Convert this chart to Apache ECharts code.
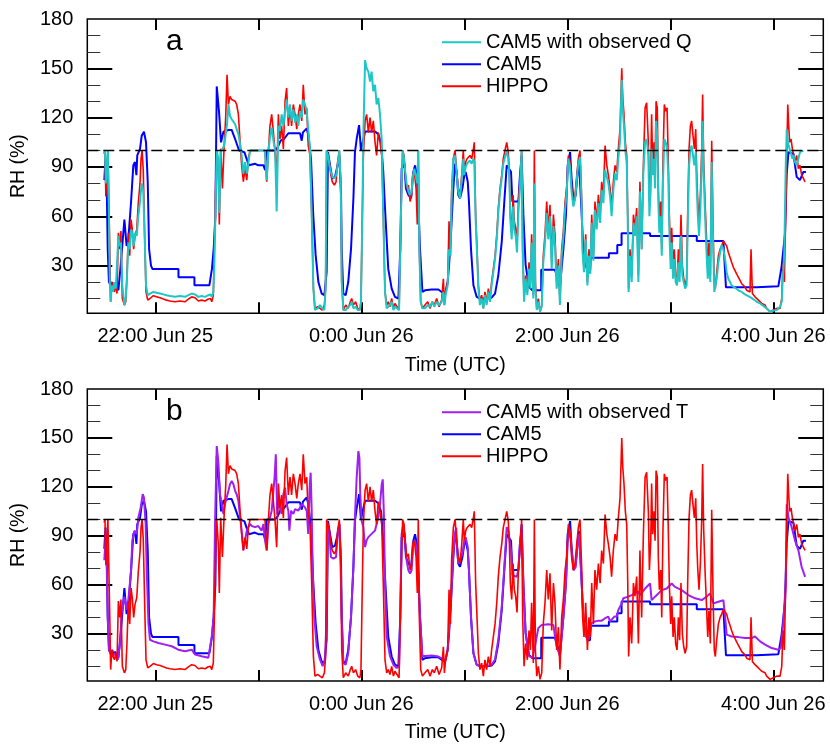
<!DOCTYPE html>
<html><head><meta charset="utf-8">
<script src="https://cdn.jsdelivr.net/npm/echarts@6/dist/echarts.min.js"></script>
<style>html,body{margin:0;padding:0;background:#fff}#c{width:830px;height:744px}</style>
</head><body><div id="c"></div>
<script>
// time in minutes relative to 22:00 UTC Jun 25
const X_MIN = -39.6, X_MAX = 389.1;
const Y_MIN = 1, Y_MAX = 180;
const xTickMinutes = [0, 60, 120, 180, 240, 300, 360];
const xLabelMinutes = [0, 120, 240, 360];
const xLabelText = ['22:00 Jun 25', '0:00 Jun 26', '2:00 Jun 26', '4:00 Jun 26'];
const yMajorTicks = [30, 60, 90, 120, 150];
const yLabelValues = [30, 60, 90, 120, 150, 180];
const yMinorTicks = [10, 20, 40, 50, 70, 80, 100, 110, 130, 140, 160, 170];
const saturation = 100;

const hippo = [[-29.8,98],[-29.3,100],[-28.8,72],[-28.2,88],[-27.6,100],[-27.0,100],[-26.5,40],[-26.0,8],[-25.3,20],[-24.6,16],[-23.8,14],[-23.0,18],[-22.3,13],[-21.5,50],[-20.7,40],[-20.0,51],[-19.2,10],[-18.0,6],[-17.2,8],[-16.5,24],[-15.7,50],[-14.9,36],[-14.1,58],[-13.4,52],[-12.6,40],[-11.8,48],[-10.8,52],[-9.9,68],[-8.9,80],[-8.3,95],[-7.7,100],[-7.0,88],[-6.0,40],[-5.4,14],[-4.4,9],[-3.1,10],[-1.1,11.7],[0.8,11],[2.8,10.5],[4.7,9.7],[6.6,9],[8.6,8.5],[11.5,8],[14.4,8.5],[17.3,8],[19.3,9.7],[21.2,11],[23.1,10.5],[25.1,8.5],[27,9],[29,8.5],[30.9,9.7],[32.1,10],[32.9,8],[33.8,12],[34.4,40],[35.2,81],[35.8,100],[36.7,85],[37.3,55],[38.1,101],[39.1,77],[40.2,105],[41,120],[41.8,146],[42.6,128],[43.5,133],[44.5,131],[46.5,130],[47.4,128],[48.4,122],[49.4,105],[50.3,91],[51.3,81],[52.3,89],[53.3,82],[54.2,95],[55.2,100],[63.9,100],[64.9,81],[65.9,100],[66.8,115],[67.8,122],[68.8,111],[69.8,99],[70.7,83],[71.7,122],[72.6,107],[73.6,115],[74.6,101],[75.6,130],[76.5,138],[77.5,115],[78.5,126],[79.4,115],[80.4,128],[81.4,122],[82.4,113],[83.3,122],[84.3,128],[85.3,118],[86.2,140],[87.2,122],[88.2,126],[89.1,103],[90.1,97],[91.1,61],[92.1,16],[93,4],[94.6,5],[95.9,4],[97.3,3],[98.5,6],[99.2,16],[99.8,100],[100.8,99],[101.4,93],[102.3,85],[103.1,81],[104.3,79],[105.3,81],[106.2,93],[107.2,100],[108,81],[108.6,20],[109.5,3],[110.9,6],[112.4,4],[113.6,8],[114.4,10],[115.4,6],[116.7,8],[117.9,4],[119.2,3],[119.8,8],[120.6,61],[121.2,97],[122.2,118],[123.1,122],[124.1,111],[125.1,120],[126,111],[127,118],[128,105],[128.9,97],[129.9,111],[130.9,105],[131.9,97],[132.8,61],[133.8,14],[134.8,6],[135.7,8],[136.7,5],[137.7,10],[138.7,4],[139.6,7],[140.6,6],[142,3],[142.7,4],[143.5,81],[144.1,100],[144.9,97],[145.5,87],[146.4,77],[147.4,79],[148.4,69],[149.3,73],[149.9,85],[150.9,87],[151.9,77],[152.6,55],[153.2,100],[153.8,40],[154.6,8],[155.6,4],[157.1,6],[158.7,8],[160,4],[161.4,8],[162.5,6],[163.9,10],[165.3,5],[166.8,9],[167.8,22],[168.4,6],[169.1,14],[170.3,20],[171.1,57],[171.9,36],[172.6,75],[173.6,95],[174.6,100],[175.6,87],[176.5,77],[177.5,73],[178.5,85],[179.4,100],[180,87],[180.8,93],[181.6,95],[182.3,95],[183.3,97],[184.3,95],[185.3,101],[185.8,105],[186.6,61],[187.4,40],[188.2,18],[189.1,8],[190.1,12],[191.1,4],[192,14],[193,8],[194,16],[195,10],[195.9,20],[196.9,28],[197.9,36],[198.9,49],[199.8,65],[200.8,77],[201.8,85],[202.7,95],[203.7,100],[204.7,105],[205.6,99],[206.2,87],[206.8,61],[207.6,51],[208.4,73],[209.1,57],[209.9,53],[210.7,43],[211.5,69],[212.4,81],[213.4,100],[214,40],[214.8,10],[215.7,24],[216.7,14],[217.7,32],[218.5,20],[219.2,49],[220.2,12],[220.8,100],[221.4,20],[222.2,4],[223.1,10],[224.1,2],[225.1,6],[226,36],[227,49],[228,69],[228.9,51],[229.9,67],[230.9,32],[231.9,61],[232.8,49],[233.8,20],[234.8,34],[235.7,8],[236.7,40],[237.7,51],[238.7,69],[239.6,77],[240.6,97],[241.6,93],[242.5,77],[243.5,69],[244.5,73],[245.5,85],[246.4,95],[247.4,100],[248.4,69],[248.9,40],[249.7,28],[250.7,49],[251.7,20],[252.6,40],[253.4,28],[254.2,61],[255.2,36],[256.1,69],[257.1,57],[258.1,73],[259.1,61],[260,81],[261,73],[262,103],[263,91],[263.9,85],[264.9,77],[265.8,65],[266.8,81],[267.8,91],[268.8,87],[269.7,101],[270.7,113],[271.7,150],[272.3,132],[273,122],[273.8,105],[274.6,97],[275.2,61],[275.7,16],[276.5,40],[277.5,24],[278.5,61],[279.4,53],[280.4,65],[281.4,24],[282.3,81],[283.3,40],[284.3,91],[285.3,126],[286.2,129],[287.2,105],[287.8,69],[288.6,87],[289.1,122],[289.7,91],[290.5,105],[291.1,87],[291.7,130],[292.4,126],[293,77],[293.6,57],[294.4,69],[295,40],[295.7,93],[296.5,128],[297.3,124],[298.1,126],[298.8,95],[299.4,61],[300.2,36],[300.8,53],[301.6,28],[302.3,40],[303.1,24],[303.9,20],[304.7,40],[305.4,26],[306.2,61],[307,30],[307.8,22],[308.6,18],[309.5,22],[310.1,61],[310.9,101],[311.7,115],[312.4,118],[313.2,109],[314,101],[314.8,113],[315.4,85],[316,69],[316.7,57],[317.5,73],[318.3,101],[318.8,134],[319.4,95],[320.2,69],[321,49],[321.8,28],[322.5,44],[323.3,24],[324.1,106],[324.9,53],[325.6,20],[326.2,16],[327,26],[328,36],[329,40],[329.9,42],[330.9,45],[331.9,46],[332.8,42],[333.8,38],[334.8,35],[335.7,32],[336.7,29],[337.7,27],[338.6,25],[339.6,23],[340.6,21],[341.6,19],[342.5,18],[343.5,17],[344.5,15],[345.4,16],[346.4,14],[347,40],[347.8,13],[348.4,12],[349.3,11],[350.3,10],[351.3,9],[352.3,8],[353.2,7],[354.2,7],[355.2,6],[356.1,4],[357.1,3],[358.1,2],[359,2],[360,3],[361,2],[362,4],[362.9,3],[363.9,4],[364.9,10],[365.4,26],[366,32],[366.4,20],[367.2,61],[367.8,97],[368.4,128],[368.9,116],[369.5,105],[370.3,107],[371.1,101],[371.9,97],[372.6,93],[373.6,97],[374.6,89],[375.5,91],[376.5,85],[377.5,83],[378.5,81]];

const cam5Q = [[-29.8,98],[-29.3,100],[-28.8,80],[-28.2,92],[-27.6,100],[-27.0,60],[-26.5,20],[-26.0,8],[-25.3,18],[-24.6,14],[-23.8,20],[-23.0,16],[-22.3,16],[-21.5,48],[-20.7,42],[-20.0,44],[-19.2,18],[-18.0,6],[-17.2,10],[-16.5,22],[-15.7,44],[-14.9,40],[-14.1,52],[-13.4,50],[-12.6,42],[-11.8,50],[-10.8,48],[-9.9,60],[-8.9,69],[-8.3,76],[-7.7,80],[-7.0,75],[-6.0,40],[-5.4,18],[-4.4,12],[-3.1,13],[-1.1,14],[0.8,13.5],[2.8,13],[4.7,12.5],[6.6,12],[8.6,11.5],[11.5,11],[14.4,11.5],[17.3,11],[19.3,12],[21.2,13],[23.1,12.5],[25.1,11],[27,11.5],[29,11],[30.9,12],[32.1,12.5],[32.9,11],[33.8,14],[34.4,30],[35.2,70],[35.8,100],[36.7,95],[37.3,62],[38.1,99],[39.1,100],[40.2,103],[41,110],[41.8,116],[42.6,128],[43.5,121],[44.5,119],[46.5,116],[47.4,113],[48.4,110],[49.4,104],[50.3,97],[51.3,86],[52.3,93],[53.3,86],[54.2,92],[55.2,100],[63.9,100],[64.9,82],[65.9,100],[66.8,108],[67.8,114],[68.8,106],[69.8,100],[70.7,63],[71.7,115],[72.6,112],[73.6,122],[74.6,115],[75.6,124],[76.5,131],[77.5,120],[78.5,128],[79.4,118],[80.4,125],[81.4,117],[82.4,122],[83.3,115],[84.3,124],[85.3,120],[86.2,131],[87.2,128],[88.2,124],[89.1,113],[90.1,101],[91.1,61],[92.1,16],[93,3],[94.6,4],[95.9,6],[97.3,4],[98.5,3],[99.2,16],[99.8,100],[100.8,96],[101.4,91],[102.3,87],[103.1,84],[104.3,83],[105.3,85],[106.2,91],[107.2,100],[108,81],[108.6,20],[109.5,3],[110.9,3],[112.4,5],[113.6,6],[114.4,8],[115.4,4],[116.7,5],[117.9,3],[119.2,3],[119.8,8],[120.6,61],[121.2,110],[122.2,155],[123.1,150],[124.1,148],[125.1,142],[126,148],[127,136],[128,140],[128.9,128],[129.9,132],[130.9,122],[131.9,106],[132.8,61],[133.8,14],[134.8,4],[135.7,3],[136.7,6],[137.7,8],[138.7,3],[139.6,5],[140.6,4],[142,3],[142.7,4],[143.5,81],[144.1,100],[144.9,95],[145.5,88],[146.4,80],[147.4,75],[148.4,73],[149.3,75],[149.9,83],[150.9,89],[151.9,88],[152.6,80],[153.2,100],[153.8,40],[154.6,8],[155.6,4],[157.1,4],[158.7,6],[160,5],[161.4,8],[162.5,5],[163.9,8],[165.3,6],[166.8,8],[167.8,14],[168.4,6],[169.1,12],[170.3,18],[171.1,40],[171.9,36],[172.6,70],[173.6,95],[174.6,97],[175.6,85],[176.5,75],[177.5,71],[178.5,83],[179.4,95],[180,85],[180.8,90],[181.6,92],[182.3,93],[183.3,94],[184.3,92],[185.3,95],[185.8,93],[186.6,58],[187.4,38],[188.2,16],[189.1,6],[190.1,10],[191.1,4],[192,12],[193,6],[194,14],[195,8],[195.9,18],[196.9,26],[197.9,34],[198.9,46],[199.8,62],[200.8,75],[201.8,83],[202.7,92],[203.7,96],[204.7,100],[205.6,95],[206.2,84],[206.8,58],[207.6,46],[208.4,66],[209.1,52],[209.9,48],[210.7,38],[211.5,62],[212.4,77],[213.4,100],[214,38],[214.8,8],[215.7,22],[216.7,12],[217.7,28],[218.5,16],[219.2,44],[220.2,10],[220.8,80],[221.4,16],[222.2,3],[223.1,8],[224.1,2],[225.1,5],[226,32],[227,44],[228,62],[228.9,46],[229.9,60],[230.9,28],[231.9,54],[232.8,42],[233.8,16],[234.8,30],[235.7,6],[236.7,36],[237.7,47],[238.7,64],[239.6,74],[240.6,95],[241.6,90],[242.5,75],[243.5,66],[244.5,70],[245.5,82],[246.4,92],[247.4,96],[248.4,66],[248.9,38],[249.7,26],[250.7,46],[251.7,18],[252.6,36],[253.4,25],[254.2,56],[255.2,33],[256.1,64],[257.1,52],[258.1,68],[259.1,56],[260,76],[261,68],[262,88],[263,84],[263.9,80],[264.9,72],[265.8,60],[266.8,76],[267.8,86],[268.8,82],[269.7,95],[270.7,106],[271.7,143],[272.3,125],[273,115],[273.8,100],[274.6,92],[275.2,56],[275.7,14],[276.5,36],[277.5,20],[278.5,56],[279.4,48],[280.4,60],[281.4,20],[282.3,75],[283.3,40],[284.3,87],[285.3,105],[286.2,107],[287.2,97],[287.8,60],[288.6,77],[289.1,101],[289.7,85],[290.5,95],[291.1,77],[291.7,118],[292.4,109],[293,69],[293.6,50],[294.4,60],[295,36],[295.7,81],[296.5,107],[297.3,105],[298.1,101],[298.8,85],[299.4,52],[300.2,28],[300.8,44],[301.6,22],[302.3,34],[303.1,20],[303.9,18],[304.7,32],[305.4,20],[306.2,48],[307,24],[307.8,20],[308.6,16],[309.5,18],[310.1,52],[310.9,91],[311.7,101],[312.4,103],[313.2,97],[314,91],[314.8,99],[315.4,77],[316,61],[316.7,48],[317.5,64],[318.3,91],[318.8,118],[319.4,87],[320.2,61],[321,40],[321.8,22],[322.5,36],[323.3,20],[324.1,93],[324.9,44],[325.6,14],[326.2,14],[327,22],[328,32],[329,38],[329.9,42.5],[330.9,40],[331.9,34],[332.8,26],[333.8,22],[334.8,20],[335.7,18],[336.7,17],[337.7,16.5],[338.6,16],[339.6,15],[340.6,14.5],[341.6,14],[342.5,13],[343.5,12.5],[344.5,12],[345.4,11.5],[346.4,11],[347,10.5],[347.8,10],[348.4,9.5],[349.3,9],[350.3,8],[351.3,7.5],[352.3,7],[353.2,6],[354.2,5.5],[355.2,5],[356.1,4],[357.1,3],[358.1,2],[359,2],[360,2.5],[361,2],[362,3],[362.9,3],[363.9,5],[364.9,8],[365.4,20],[366,30],[366.4,40],[367.2,90],[367.8,113],[368.4,106],[368.9,103],[369.5,101],[370.3,98],[371.1,95],[371.9,97],[372.6,93],[373.6,91],[374.6,95],[375.5,99],[376.5,100],[377.5,100]];

const cam5 = [[-29.7,82],[-29.0,95],[-28.3,80],[-27.7,40],[-27.0,20],[-26,18],[-25,20],[-24.5,17],[-23.4,19],[-22.5,17],[-21.5,15],[-20.0,32],[-18.0,58],[-16.7,42],[-15.7,46],[-14.1,69],[-12.8,91],[-11.8,93],[-11.0,85],[-10.5,97],[-8.9,101],[-7.9,109],[-6.6,111.5],[-5.4,105],[-4.4,81],[-3.6,40],[-2.5,30],[-1.7,28],[13.5,28],[13.5,23],[22.8,23],[22.8,18],[31.5,18],[33.0,28],[34.0,40],[35.0,60],[35.8,139],[37.1,124],[38.3,105],[39.7,111.5],[42.6,112.5],[44.5,112.5],[46.5,107],[48.8,100],[51.9,99],[53.8,93],[54.6,91],[58,92],[60,91],[63,91],[64,88],[64.9,100],[69.8,100],[71.3,102],[73,106],[75,107],[77.5,110.5],[84.3,110.5],[85.3,106],[86,111],[88.2,113.5],[89.1,109.5],[90.7,95],[92,61],[93.4,36.5],[95,20],[96.9,13],[98.5,12],[99.8,26],[100.6,99],[101.8,91],[103.1,83],[104.7,84],[106.2,91],[107.2,97],[108.2,73],[108.6,40],[109.5,13],[110.9,12],[112.4,20],[114,40],[115.4,71],[116.3,99],[117.3,107],[118.7,115.5],[119.8,100],[121.2,107],[122.2,111.5],[128,111.5],[129.9,110],[131.5,105],[132.8,87],[133.8,65],[135.7,28],[137.7,16],[139.6,11],[141.6,10],[142.7,40],[143.5,89],[145.1,92],[146,77],[147.4,73],[149,71],[150.3,87],[151.3,91],[152.3,85],[153.2,69],[154.2,40],[155.6,14],[157.1,15],[161,15.5],[164.9,15.5],[166.8,14],[168.8,13],[170.3,20],[171.1,30],[172.3,50.5],[173.6,77],[174.6,92],[175.5,87],[176.5,73],[177.5,71],[178.9,77],[180,85],[180.8,87],[182,81],[182.7,69],[183.9,40],[185.3,18],[187.2,11],[189.1,10],[193,10],[195.9,10.5],[197.9,13],[199.8,24],[201.8,44.5],[203.3,69],[204.7,91],[205.6,92],[207.2,87],[208,69],[211.5,69],[212.4,85],[213.4,97],[214.4,61],[215.7,30.5],[217.7,17],[219.6,15],[224.8,15],[224.8,27.5],[232.8,27.5],[233.8,24],[235.7,17],[236.7,16],[237.7,40],[239.2,61],[240.2,91],[241.6,99],[242.5,83],[243.7,69],[244.9,73],[246,87],[246.8,93],[248,69],[249.3,40],[250.3,32],[251.9,26],[253.2,26],[253.6,34.8],[264.2,34.8],[264.2,37.5],[269.1,37.5],[269.1,42.5],[271.6,42.5],[271.6,49.7],[288.2,49.7],[288.2,48],[315.4,48],[315.4,45],[330.9,45],[332.4,16.8],[350.3,16.8],[350.3,17.4],[362.9,17.4],[364.8,29.3],[366.8,49.7],[367.8,86],[368.8,99],[371.7,98],[373.6,84],[375.5,82],[377.5,87],[379,87]];

const cam5T = [[-29.7,75],[-28.7,93],[-27.7,40.5],[-26.9,20],[-25.4,16],[-23.4,18],[-21.9,14],[-20.5,24],[-19.6,42.5],[-18.0,52.7],[-16.7,44.6],[-15.7,50.6],[-14.1,69],[-13.4,87],[-12.2,93],[-10.8,91],[-9.9,101],[-8.5,107.4],[-7.3,115.5],[-6.6,113.5],[-5.6,97],[-5.0,69],[-4.0,36.5],[-3.1,26.3],[-1.1,25.3],[1.8,24.3],[5.7,23.3],[9.6,22.3],[13.4,20.2],[17.3,19.2],[21.2,20.2],[23.2,17.2],[27.0,16.2],[30.9,15.2],[31.9,16.2],[32.9,28.3],[34.0,40.5],[34.8,97],[35.8,145],[36.7,135.8],[37.7,115.5],[38.7,109.5],[39.7,103.4],[40.6,109.5],[41.6,113.5],[42.6,117.6],[43.5,121.6],[44.5,123.6],[45.5,121.6],[46.5,117.6],[47.4,115.5],[48.4,111.5],[49.4,101.4],[50.3,93.2],[51.3,81.1],[52.3,87.2],[53.3,93.2],[54.2,95.3],[55.2,97.3],[56.2,96],[58.1,95.3],[60.0,96],[62.0,93.2],[63.0,97.3],[63.9,87.2],[64.9,81.1],[65.9,97.3],[67.8,105.4],[69.5,126],[70.2,140],[71.0,103],[71.7,111.5],[72.6,107.4],[73.6,103.4],[74.6,115.5],[75.6,119.6],[76.5,109.5],[77.5,105.4],[78.1,93.2],[79.1,105.4],[80.4,103.4],[81.4,106.4],[82.4,107.4],[83.3,105.4],[84.3,107.4],[85.3,109.5],[86.2,109.5],[87.2,107.4],[88.2,105.4],[89.1,91.2],[89.9,119.6],[90.5,128.7],[91.1,105.4],[91.7,68.9],[92.6,40.5],[94.0,22.3],[95.9,14.2],[97.5,10.1],[98.9,14.2],[99.8,40.5],[100.4,97.3],[101.4,91.2],[102.3,77],[103.7,76],[105.3,77],[106.2,91.2],[107.2,97.3],[108.0,68.9],[108.6,40.5],[109.5,12.1],[110.9,11],[112.4,18.2],[114.0,40.5],[115.4,71],[116.3,101.4],[117.3,125.7],[118.3,141.9],[118.9,137.8],[119.4,115.5],[120.2,99.3],[121.2,95.3],[122.2,83.1],[123.1,87.2],[124.1,89.2],[126.0,91.2],[128.0,93.2],[129.9,101.4],[130.9,109.5],[131.9,121.6],[132.5,124.6],[133.2,101.4],[133.8,60.8],[134.8,28.3],[136.7,16.2],[138.7,11],[140.6,9],[142.0,10],[142.7,40.5],[143.5,91.2],[144.5,97.3],[145.5,87.2],[146.4,75],[147.4,68.9],[148.4,66.9],[149.3,68.9],[150.3,85.1],[151.3,87.2],[152.3,81.1],[153.2,64.8],[154.2,40.5],[155.6,16.2],[161.0,16.7],[164.9,16],[167.8,14.2],[169.1,13.8],[170.3,20.2],[171.1,32.4],[172.3,52.7],[173.6,79],[174.6,92],[175.3,95],[175.6,85],[176.5,73],[177.5,72],[178.9,79],[180.0,87.2],[180.8,89.2],[182.0,83.1],[182.7,68.9],[183.9,40.5],[185.3,18.2],[187.2,11],[189.1,10.1],[193.0,10.1],[195.9,11],[197.9,14.2],[199.8,26.3],[201.8,46.6],[203.3,70.9],[204.7,95.3],[205.6,93.2],[207.2,81.1],[208.0,66],[210.5,64.8],[211.5,68.9],[212.4,85.1],[213.4,93.2],[214.4,60.8],[215.7,30.4],[217.7,16.2],[219.6,15.2],[221.2,22.3],[222.2,28.3],[223.1,33.4],[225.1,35.4],[228.9,35.8],[231.9,35.4],[232.8,28.3],[233.8,22.3],[235.7,16.2],[236.7,17.2],[237.7,40.5],[239.2,60.8],[240.2,87.2],[241.6,93.2],[242.5,81.1],[243.7,68.9],[244.9,70.9],[246.0,85.1],[246.8,91.2],[248.0,68.9],[249.3,40.5],[250.7,28.3],[252.3,26.3],[253.2,30.4],[254.2,36.5],[256.1,37.5],[258.1,38],[260.0,38],[262.0,39.5],[263.9,40.5],[264.9,37.5],[265.8,38],[267.4,40.5],[268.8,40.5],[269.7,44.6],[270.7,46.6],[271.7,48.6],[272.6,51.7],[273.6,52.7],[275.5,52.7],[277.5,53.7],[279.4,54.7],[281.4,55.7],[282.3,53.7],[285.3,57.7],[288.2,60.8],[289.1,50.6],[291.1,52.7],[295.0,56.7],[297.9,57.7],[300.8,60.8],[302.7,58.7],[306.6,56.7],[310.5,53.7],[314.4,51.7],[318.3,50.6],[321.2,52.7],[323.1,54.7],[325.1,48.6],[328.0,49.6],[330.9,50.6],[331.9,40.5],[332.8,29.4],[335.7,28.3],[339.6,27.9],[343.5,27.3],[347.4,27.3],[349.3,28.3],[352.3,25.3],[355.2,23.3],[359.0,21.2],[362.9,20.2],[364.3,21.2],[365.8,36.5],[367.2,60.8],[367.8,109.4],[368.8,101.4],[370.7,95.3],[372.6,87.2],[374.6,81.1],[376.5,70.9],[378.5,64.8]];

const FONT = '"Liberation Sans", Arial, Helvetica, sans-serif';
const C_RED = '#FF0000', C_BLUE = '#0000FF', C_CYAN = '#1FC6C6', C_PURPLE = '#A020F0';

const gridBoxes = [{top: 19}, {top: 389}];

function xAxes(g) {
  const base = {gridIndex: g, type: 'value', min: X_MIN, max: X_MAX,
    axisLine: {show: false, onZero: false}, splitLine: {show: false}};
  return [
    Object.assign({}, base, {position: 'bottom',
      axisTick: {show: true, inside: true, length: 11, customValues: xTickMinutes, lineStyle: {color: '#000', width: 2}},
      axisLabel: {show: true, customValues: xLabelMinutes, color: '#000', fontSize: 20, fontFamily: FONT, margin: 13,
        formatter: v => { const i = xLabelMinutes.indexOf(Math.round(v)); return i >= 0 ? xLabelText[i] : ''; }},
      name: 'Time (UTC)', nameLocation: 'middle', nameGap: 42,
      nameTextStyle: {color: '#000', fontSize: 19.5, fontFamily: FONT}}),
    Object.assign({}, base, {position: 'top',
      axisTick: {show: true, inside: true, length: 11, customValues: xTickMinutes, lineStyle: {color: '#000', width: 2}},
      axisLabel: {show: false}})
  ];
}
function yAxes(g) {
  const base = {gridIndex: g, type: 'value', min: Y_MIN, max: Y_MAX,
    axisLine: {show: false, onZero: false}, splitLine: {show: false}};
  const major = {show: true, inside: true, length: 25, customValues: yMajorTicks, lineStyle: {color: '#000', width: 2}};
  const minor = {show: true, inside: true, length: 13, customValues: yMinorTicks, lineStyle: {color: '#333', width: 1}};
  return [
    Object.assign({}, base, {position: 'left', axisTick: major,
      axisLabel: {show: true, customValues: yLabelValues, color: '#000', fontSize: 20, fontFamily: FONT, margin: 14},
      name: 'RH (%)', nameLocation: 'middle', nameGap: 56,
      nameTextStyle: {color: '#000', fontSize: 19.5, fontFamily: FONT}}),
    Object.assign({}, base, {position: 'left', axisTick: minor, axisLabel: {show: false}}),
    Object.assign({}, base, {position: 'right', axisTick: major, axisLabel: {show: false}}),
    Object.assign({}, base, {position: 'right', axisTick: minor, axisLabel: {show: false}})
  ];
}
const satLine = {silent: true, symbol: ['none', 'none'], label: {show: false},
  lineStyle: {color: '#000', type: [11, 5], width: 1.3}, data: [{yAxis: saturation}]};
function line(name, data, color, width, xi, yi, mark) {
  const s = {type: 'line', name, data, xAxisIndex: xi, yAxisIndex: yi,
    showSymbol: false, symbol: 'none', connectNulls: false,
    lineStyle: {color, width}, itemStyle: {color}, emphasis: {disabled: true}};
  if (mark) s.markLine = satLine;
  return s;
}
function legend(names, top) {
  return {data: names, orient: 'vertical', left: 442, top, padding: 0, itemGap: 0,
    itemWidth: 39, itemHeight: 2, icon: 'rect', selectedMode: false,
    textStyle: {color: '#000', fontSize: 20, lineHeight: 22, fontFamily: FONT}};
}

const chart = echarts.init(document.getElementById('c'), null, {width: 830, height: 744});
chart.setOption({
  animation: false,
  backgroundColor: '#fff',
  grid: gridBoxes.map(b => ({left: 87.3, top: b.top, width: 736, height: 294.3, show: true,
    borderColor: '#000', borderWidth: 1.5, backgroundColor: 'transparent'})),
  xAxis: [...xAxes(0), ...xAxes(1)],
  yAxis: [...yAxes(0), ...yAxes(1)],
  legend: [legend(['CAM5 with observed Q', 'CAM5', 'HIPPO'], 31.3),
           legend(['CAM5 with observed T', 'CAM5', 'HIPPO'], 401.3)],
  graphic: [
    {type: 'text', left: 166, top: 27, style: {text: 'a', font: '30px ' + FONT, fill: '#000'}},
    {type: 'text', left: 166, top: 397, style: {text: 'b', font: '30px ' + FONT, fill: '#000'}}
  ],
  series: [
    line('CAM5', cam5, C_BLUE, 2, 0, 0),
    line('HIPPO', hippo, C_RED, 1.6, 0, 0),
    line('CAM5 with observed Q', cam5Q, C_CYAN, 2, 0, 0, true),
    line('CAM5', cam5, C_BLUE, 2, 2, 4),
    line('CAM5 with observed T', cam5T, C_PURPLE, 2, 2, 4),
    line('HIPPO', hippo, C_RED, 1.6, 2, 4, true)
  ]
});
</script></body></html>
